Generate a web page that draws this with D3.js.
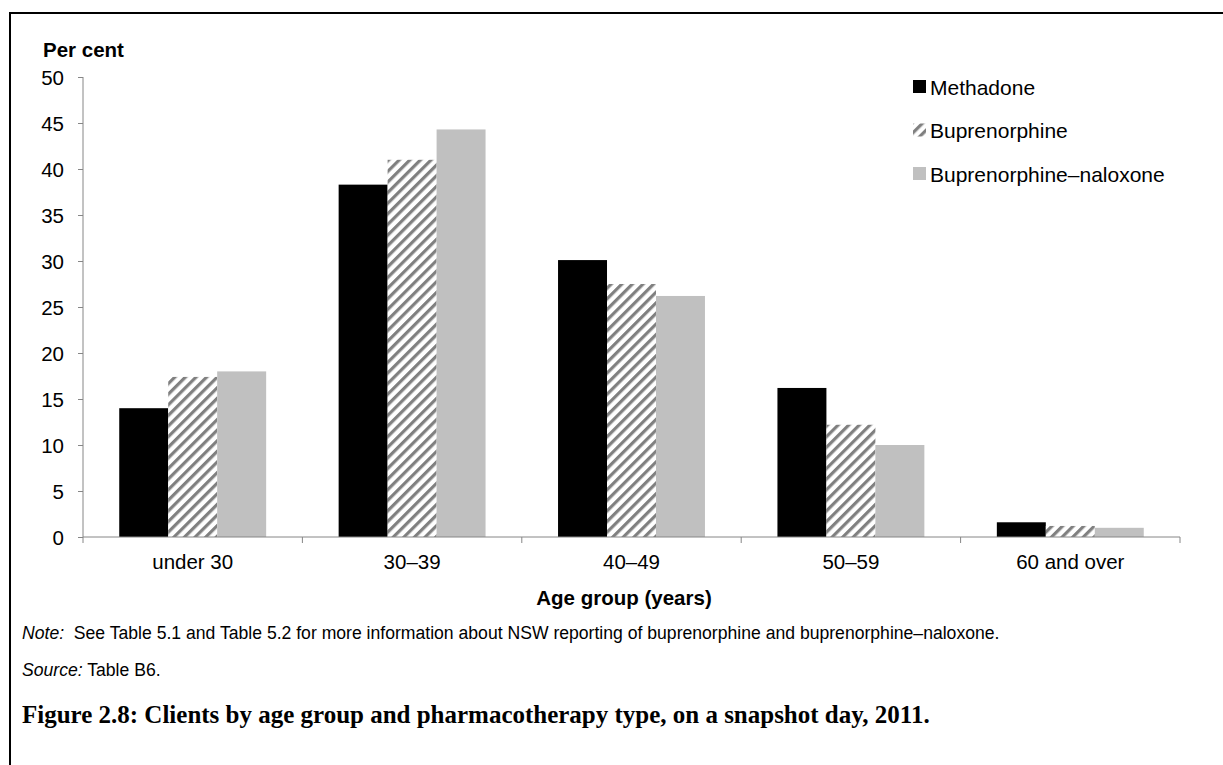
<!DOCTYPE html>
<html>
<head>
<meta charset="utf-8">
<script src="https://cdn.jsdelivr.net/npm/d3@7"></script>
<style>
  body { margin: 0; background: #fff; }
  svg text { font-family: "Liberation Sans", Arial, sans-serif; fill: #000; }
</style>
</head>
<body>
<svg width="1223" height="765"></svg>
<script>
// data
var categories = ["under 30", "30–39", "40–49", "50–59", "60 and over"];
var seriesNames = ["Methadone", "Buprenorphine", "Buprenorphine–naloxone"];
var methadone = [14.0, 38.3, 30.1, 16.2, 1.6];
var buprenorphine = [17.4, 41.0, 27.5, 12.2, 1.2];
var bupNaloxone = [18.0, 44.3, 26.2, 10.0, 1.0];
var yTicks = [0, 5, 10, 15, 20, 25, 30, 35, 40, 45, 50];

var svg = d3.select("svg");
var axisGrey = "#868686";

// outer frame (only top and left edges are in view)
svg.append("path")
  .attr("d", "M10,765 V13 H1223")
  .attr("fill", "none")
  .attr("stroke", "#000")
  .attr("stroke-width", 2);

// hatch pattern for buprenorphine
var defs = svg.append("defs");
defs.append("pattern")
  .attr("id", "hatch")
  .attr("patternUnits", "userSpaceOnUse")
  .attr("width", 7.5)
  .attr("height", 7.5)
  .attr("patternTransform", "rotate(45)")
  .call(function(p) {
    p.append("rect").attr("width", 7.5).attr("height", 7.5).attr("fill", "#fff");
    p.append("rect").attr("width", 3.2).attr("height", 7.5).attr("fill", "#808080");
  });

var colours = ["#000000", "url(#hatch)", "#c0c0c0"];

// scales
var x0 = d3.scaleBand()
  .domain(categories)
  .range([83, 1180])
  .padding(0);

var x1 = d3.scaleBand()
  .domain(seriesNames)
  .range([0, x0.bandwidth()])
  .paddingInner(0)
  .paddingOuter(0.74);

var y = d3.scaleLinear()
  .domain([0, 50])
  .range([537, 77]);

// bars
var rows = categories.map(function(c, i) {
  return { cat: c, values: [methadone[i], buprenorphine[i], bupNaloxone[i]] };
});

var groups = svg.append("g")
  .selectAll("g")
  .data(rows)
  .enter()
  .append("g")
  .attr("transform", function(d) { return "translate(" + x0(d.cat) + ",0)"; });

groups.selectAll("rect")
  .data(function(d) {
    return d.values.map(function(v, j) { return { name: seriesNames[j], value: v, j: j }; });
  })
  .enter()
  .append("rect")
  .attr("x", function(d) { return x1(d.name); })
  .attr("y", function(d) { return y(d.value); })
  .attr("width", x1.bandwidth())
  .attr("height", function(d) { return y(0) - y(d.value); })
  .attr("fill", function(d) { return colours[d.j]; });

// y axis
var yAxis = svg.append("g")
  .attr("transform", "translate(83,0)")
  .call(d3.axisLeft(y).tickValues(yTicks).tickSize(5).tickPadding(14).tickSizeOuter(0));
yAxis.select(".domain").attr("stroke", axisGrey).attr("d", "M0," + y(50) + "V" + (y(0) + 6));
yAxis.selectAll(".tick line").attr("stroke", axisGrey);
yAxis.selectAll(".tick text").style("font-size", "20.5px").attr("dy", "0.36em");

// x axis: labels in the middle, ticks between groups
var xAxis = svg.append("g")
  .attr("transform", "translate(0," + y(0) + ")")
  .call(d3.axisBottom(x0).tickSize(0).tickPadding(17));
xAxis.select(".domain").attr("stroke", axisGrey).attr("d", "M83,0H1180");
xAxis.selectAll(".tick text").style("font-size", "20.5px");

var boundaries = categories.map(function(c) { return x0(c); }).concat([x0.range()[1]]);
xAxis.selectAll(".sep")
  .data(boundaries.slice(1))
  .enter()
  .append("line")
  .attr("class", "sep")
  .attr("x1", function(d) { return d; })
  .attr("x2", function(d) { return d; })
  .attr("y1", 0)
  .attr("y2", 6)
  .attr("stroke", axisGrey);

// axis titles
svg.append("text")
  .attr("x", 43)
  .attr("y", 57)
  .style("font-size", "20.5px")
  .style("font-weight", "bold")
  .text("Per cent");

svg.append("text")
  .attr("x", 624)
  .attr("y", 605)
  .attr("text-anchor", "middle")
  .style("font-size", "20.5px")
  .style("font-weight", "bold")
  .text("Age group (years)");

// legend
var legend = svg.append("g")
  .selectAll("g")
  .data(seriesNames)
  .enter()
  .append("g")
  .attr("transform", function(d, i) { return "translate(913," + (87 + i * 43.5) + ")"; });

legend.append("rect")
  .attr("x", 0)
  .attr("y", -7)
  .attr("width", 13)
  .attr("height", 13)
  .attr("fill", function(d, i) { return colours[i]; });

legend.append("text")
  .attr("x", 17)
  .attr("y", 0)
  .attr("dy", "0.36em")
  .style("font-size", "21px")
  .text(function(d) { return d; });

// notes
var note = svg.append("text")
  .attr("x", 22)
  .attr("y", 639)
  .style("font-size", "17.6px");
note.append("tspan").style("font-style", "italic").text("Note:");
note.append("tspan").text("\u00a0 See Table 5.1 and Table 5.2 for more information about NSW reporting of buprenorphine and buprenorphine–naloxone.");

var source = svg.append("text")
  .attr("x", 22)
  .attr("y", 676)
  .style("font-size", "17.6px");
source.append("tspan").style("font-style", "italic").text("Source:");
source.append("tspan").text(" Table B6.");

// figure caption, sized to the width it has in the figure
var caption = svg.append("text")
  .attr("x", 22)
  .attr("y", 723)
  .style("font-family", "'Liberation Serif', 'DejaVu Serif', serif")
  .style("font-size", "20px")
  .style("font-weight", "bold")
  .text("Figure 2.8: Clients by age group and pharmacotherapy type, on a snapshot day, 2011.");
var capLen = caption.node().getComputedTextLength();
caption.style("font-size", (20 * 908 / capLen) + "px");
</script>
</body>
</html>
